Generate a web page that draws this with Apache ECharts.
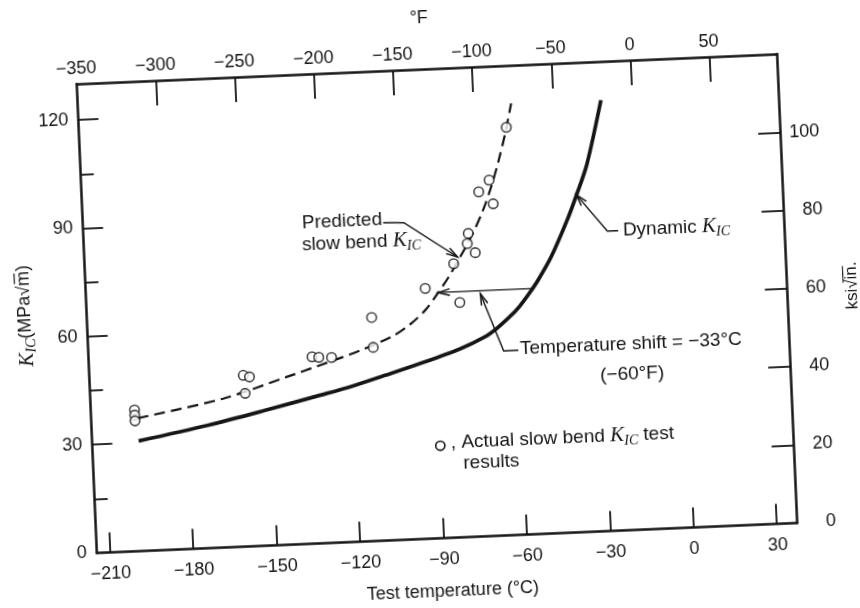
<!DOCTYPE html>
<html>
<head>
<meta charset="utf-8">
<script src="https://cdn.jsdelivr.net/npm/echarts@6/dist/echarts.min.js"></script>
<style>
html,body{margin:0;padding:0;background:#fff;overflow:hidden;width:860px;height:608px;}
#tilt{position:absolute;left:0;top:0;width:860px;height:608px;transform:rotate(-2.45deg);transform-origin:430px 304px;}
#chart{width:860px;height:608px;}
</style>
</head>
<body>
<div id="tilt"><div id="chart"></div></div>
<script>
// ---------- axis ticks / labels ----------
const tempTicksC   = [-210, -180, -150, -120, -90, -60, -30, 0, 30];
const tempTicksF   = [-300, -250, -200, -150, -100, -50, 0, 50];
const tempLabelsF  = [-350, -300, -250, -200, -150, -100, -50, 0, 50];
const kicTicks     = [30, 60, 90, 120];
const kicMinorTicks= [15, 45, 75, 105];
const kicLabels    = [0, 30, 60, 90, 120];
const ksiTicks     = [20, 40, 60, 80, 100];
const ksiLabels    = [0, 20, 40, 60, 80, 100];

// ---------- series (test temperature °C, K_IC MPa√m) ----------
const dynamicT = [-198, -173, -153, -132, -121, -108, -96, -81, -72, -67.6, -63, -59, -55.5, -52, -47, -40.8, -36.8, -32.7, -26.7];
const dynamicK = [30.5, 34, 37.3, 41, 43, 45.8, 48.5, 52.2, 55.2, 57.4, 60.3, 63.3, 66.6, 70.3, 76.5, 86.3, 93.6, 101.8, 119.3];

const predictedT = [-198, -167, -144, -131.7, -117, -104.8, -98.6, -93, -88.6, -84, -79.5, -75, -71, -67.5, -64.5, -61.5, -59];
const predictedK = [36.8, 41.2, 46.4, 49.3, 52.9, 56.6, 59.6, 63.3, 67.5, 72.3, 77.8, 83.6, 89.8, 96.5, 103.5, 111.5, 119.5];

const actualT = [-199, -199, -199, -159.4, -157.2, -159, -134.4, -132, -127.4, -112.4, -112.3, -92.7, -80.5, -82.1, -76.9, -76.4, -74.2, -72.0, -68.1, -67.0, -61.1];
const actualK = [39.1, 37.7, 36.1, 47.4, 46.9, 42.4, 51.7, 51.5, 51.3, 61.9, 53.6, 69.3, 65.0, 75.8, 81.2, 84.0, 78.6, 95.4, 98.5, 91.9, 112.9];

// ---------- styling ----------
const INK = '#151515';
const SANS = "'Liberation Sans', Arial, Helvetica, sans-serif";
const SERIF = "'Liberation Serif', 'DejaVu Serif', serif";
const minus = v => String(v).replace('-', '\u2212');
const GRID = {left: 86.6, top: 69, width: 700.6, height: 469.5};

const RICH = {
  k: {fontFamily: SERIF, fontStyle: 'italic', fontSize: 21, lineHeight: 24, fill: INK},
  s: {fontFamily: SERIF, fontStyle: 'italic', fontSize: 14, lineHeight: 24, padding: [11, 0, 0, 0], fill: INK}
};

const axisLineStyle = {show: true, onZero: false, lineStyle: {color: INK, width: 2.5}};
const tickLine = {color: INK, width: 1.8};
const labelBase = {color: INK, fontFamily: SANS, fontSize: 18, formatter: minus};

const chart = echarts.init(document.getElementById('chart'), null, {renderer: 'canvas'});

const option = {
  animation: false,
  backgroundColor: '#ffffff',
  grid: [
    Object.assign({containLabel: false, outerBoundsMode: 'none'}, GRID),
    Object.assign({containLabel: false, outerBoundsMode: 'none'}, GRID)
  ],
  xAxis: [
    {
      gridIndex: 0, type: 'value', position: 'bottom', min: -214.7, max: 37.2,
      axisLine: axisLineStyle,
      axisTick: {show: true, inside: true, length: 20, customValues: tempTicksC, lineStyle: tickLine},
      axisLabel: Object.assign({customValues: tempTicksC, margin: 13}, labelBase),
      splitLine: {show: false}
    },
    {
      gridIndex: 0, type: 'value', position: 'top', min: -350, max: 92.7,
      axisLine: axisLineStyle,
      axisTick: {show: true, inside: true, length: 25, customValues: tempTicksF, lineStyle: tickLine},
      axisLabel: Object.assign({customValues: tempLabelsF, margin: 6}, labelBase),
      splitLine: {show: false}
    },
    {gridIndex: 1, type: 'value', show: false, min: -214.7, max: 37.2, axisLine: {onZero: false}}
  ],
  yAxis: [
    {
      gridIndex: 0, type: 'value', position: 'left', min: 0, max: 130,
      axisLine: axisLineStyle,
      axisTick: {show: true, inside: true, length: 20, customValues: kicTicks, lineStyle: tickLine},
      axisLabel: Object.assign({customValues: kicLabels, margin: 10}, labelBase),
      splitLine: {show: false}
    },
    {
      gridIndex: 0, type: 'value', position: 'right', min: 0, max: 120.1,
      axisLine: axisLineStyle,
      axisTick: {show: true, inside: true, length: 22, customValues: ksiTicks, lineStyle: tickLine},
      axisLabel: Object.assign({customValues: ksiLabels, margin: 39, align: 'right'}, labelBase),
      splitLine: {show: false}
    },
    {
      gridIndex: 1, type: 'value', position: 'left', min: 0, max: 130,
      axisLine: {show: false, onZero: false},
      axisTick: {show: true, inside: true, length: 13, customValues: kicMinorTicks, lineStyle: tickLine},
      axisLabel: {show: false},
      splitLine: {show: false}
    }
  ],
  series: [
    {
      name: 'Dynamic KIC', type: 'line', xAxisIndex: 0, yAxisIndex: 0,
      data: dynamicT.map((t, i) => [t, dynamicK[i]]),
      smooth: 0.3, symbol: 'none', silent: true, z: 3,
      lineStyle: {color: INK, width: 3.7}
    },
    {
      name: 'Predicted slow bend KIC', type: 'line', xAxisIndex: 0, yAxisIndex: 0,
      data: predictedT.map((t, i) => [t, predictedK[i]]),
      smooth: 0.3, symbol: 'none', silent: true, z: 3,
      lineStyle: {color: INK, width: 2.2, type: [11, 6]}
    },
    {
      name: 'Actual slow bend KIC test results', type: 'scatter', xAxisIndex: 0, yAxisIndex: 0,
      data: actualT.map((t, i) => [t, actualK[i]]),
      symbol: 'circle', symbolSize: 9.5, silent: true, z: 5,
      itemStyle: {color: '#ffffff', borderColor: INK, borderWidth: 1.6}
    }
  ]
};
chart.setOption(option);

// ---------- annotations ----------
const P = (t, k) => chart.convertToPixel({xAxisIndex: 0, yAxisIndex: 0}, [t, k]);
function poly(pts, w) {
  return {type: 'polyline', z: 20, shape: {points: pts}, style: {stroke: INK, lineWidth: w || 1.4, fill: null}};
}
function head(tip, from) {
  const dx = from[0] - tip[0], dy = from[1] - tip[1];
  const L = Math.hypot(dx, dy), ux = dx / L, uy = dy / L;
  const len = 12, a = 0.28, c = Math.cos(a), s = Math.sin(a);
  const p1 = [tip[0] + len * (ux * c - uy * s), tip[1] + len * (ux * s + uy * c)];
  const p2 = [tip[0] + len * (ux * c + uy * s), tip[1] + len * (-ux * s + uy * c)];
  return poly([p1, tip, p2], 1.5);
}
function txt(pos, text, extra) {
  return {type: 'text', x: pos[0], y: pos[1], z: 20,
    style: Object.assign({text: text, fill: INK, fontFamily: SANS, fontSize: 19, lineHeight: 24,
      align: 'left', verticalAlign: 'middle', rich: RICH}, extra || {})};
}

const g = [];
// Predicted slow bend label + leader
g.push(txt(P(-136.0, 88.7), 'Predicted'));
g.push(txt(P(-136.3, 82.7), 'slow bend {k|K}{s|IC}'));
const pl = [P(-106.8, 88), P(-99.35, 87.7), P(-80.6, 77.6)];
g.push(poly(pl));
g.push(head(pl[2], pl[1]));

// Dynamic label + leader
const dl = [P(-37, 93.4), P(-26.4, 83), P(-22.5, 83)];
g.push(poly(dl));
g.push(head(dl[0], dl[1]));
g.push(txt(P(-20.8, 83), 'Dynamic {k|K}{s|IC}'));

// Temperature shift arrow
const sa = [P(-54.4, 68), P(-88.1, 68)];
g.push(poly(sa));
g.push(head(sa[1], sa[0]));
const sl = [P(-73, 67.2), P(-65.5, 51.1), P(-60.2, 51.1)];
g.push(poly(sl));
g.push(head(sl[0], sl[1]));
g.push(txt(P(-59.6, 51.4), 'Temperature shift = \u221233\u00b0C'));
g.push(txt(P(-31.2, 43.0), '(\u221260\u00b0F)'));

// legend entry
const lc = P(-89.7, 25.6);
g.push({type: 'circle', z: 20, shape: {cx: lc[0], cy: lc[1], r: 4.6}, style: {stroke: INK, lineWidth: 1.6, fill: '#fff'}});
g.push(txt(P(-85.9, 26.3), ', Actual slow bend {k|K}{s|IC} test'));
g.push(txt(P(-81.7, 20.3), 'results'));

// axis titles
g.push({type: 'text', x: 431, y: 18, z: 20,
  style: {text: '\u00b0F', fill: INK, fontFamily: SANS, fontSize: 18, align: 'center', verticalAlign: 'middle'}});
g.push({type: 'text', x: 440.7, y: 592, z: 20,
  style: {text: 'Test temperature (\u00b0C)', fill: INK, fontFamily: SANS, fontSize: 18, align: 'center', verticalAlign: 'middle'}});
g.push({type: 'text', x: 25.3, y: 298.6, z: 20, rotation: Math.PI / 2,
  style: {text: '{k|K}{s|IC}(MPa\u221am\u0305)', fill: INK, fontFamily: SANS, fontSize: 18, lineHeight: 24,
    align: 'center', verticalAlign: 'middle', rich: RICH}});
g.push({type: 'text', x: 852, y: 303.5, z: 20, rotation: Math.PI / 2,
  style: {text: 'ksi\u221ai\u0305n\u0305.', fill: INK, fontFamily: SANS, fontSize: 17,
    align: 'center', verticalAlign: 'middle'}});

chart.setOption({graphic: g});
</script>
</body>
</html>
